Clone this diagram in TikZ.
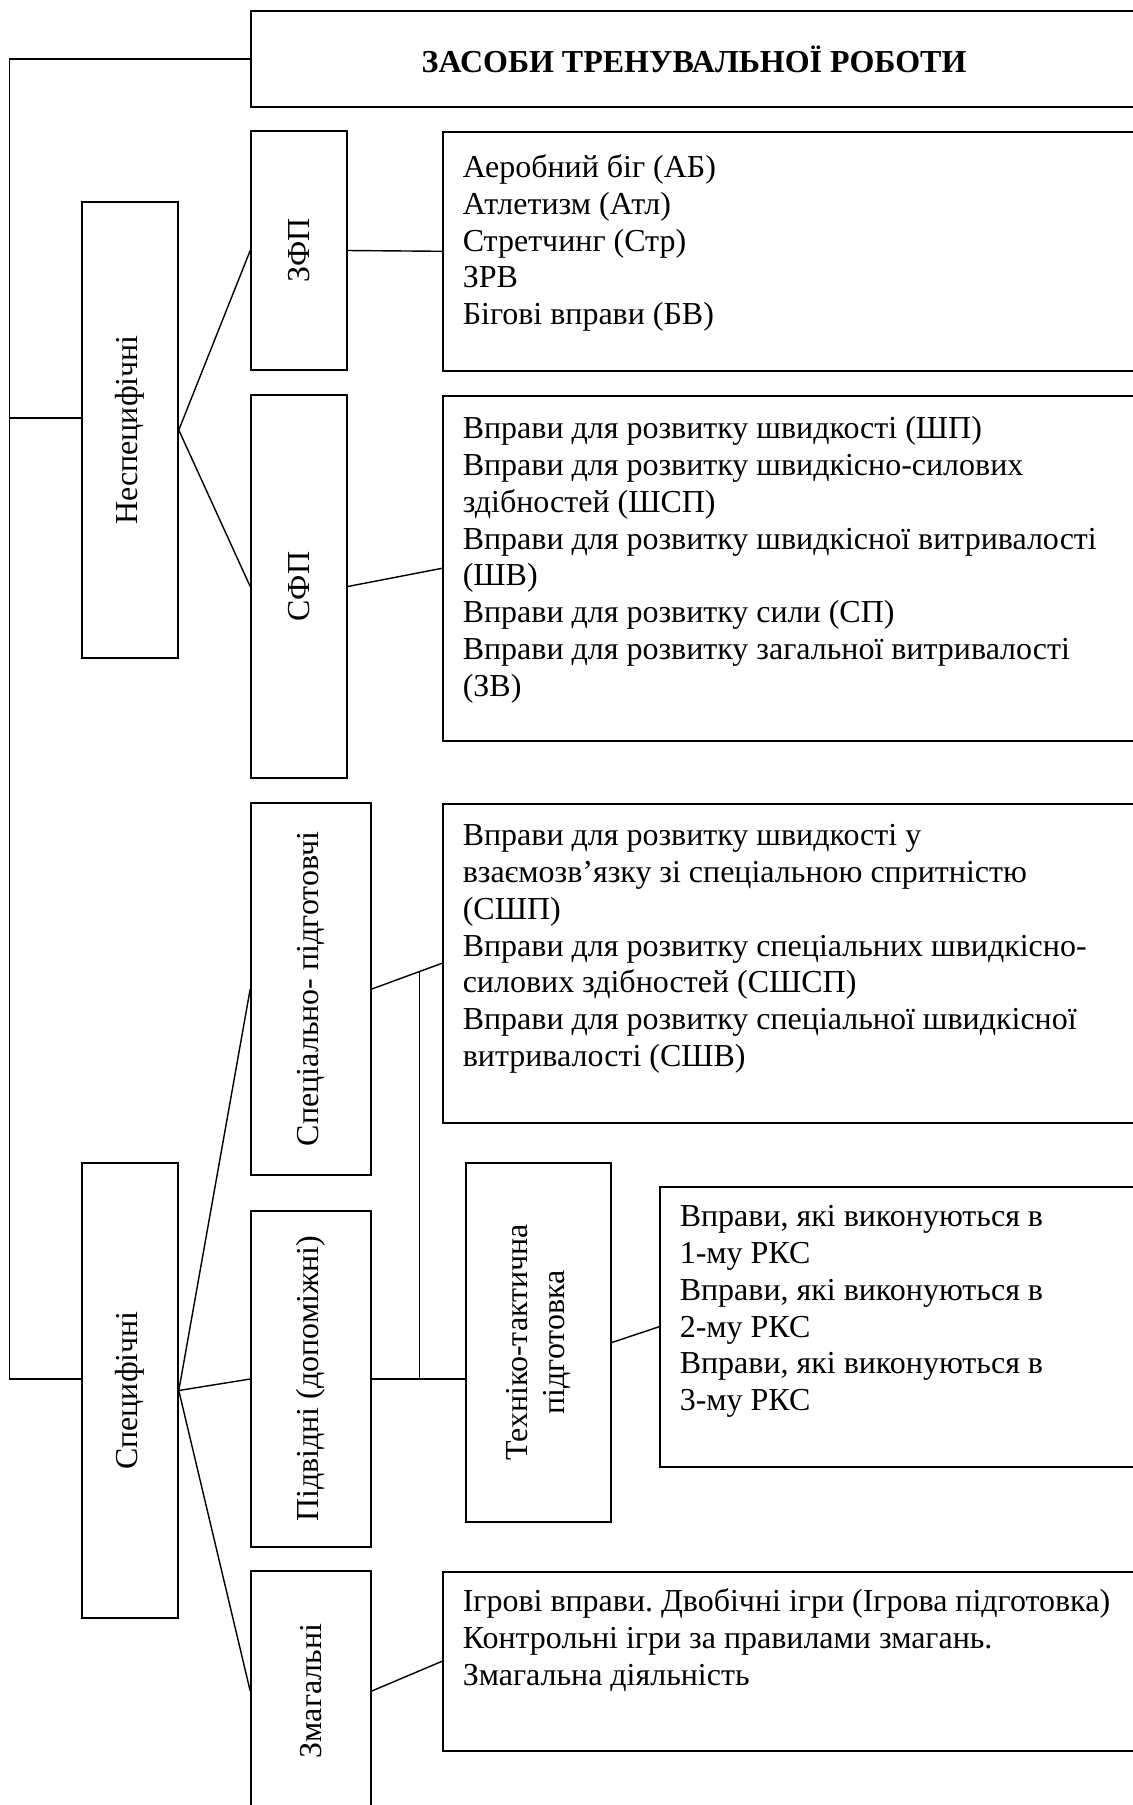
\documentclass[tikz,border=0pt]{standalone}
\usepackage{fontspec}
\setmainfont{Liberation Serif}
\usepackage{tikz}
\usetikzlibrary{calc}
\frenchspacing

\begin{document}
\begin{tikzpicture}[
  font=\fontsize{18.2}{20.9}\selectfont,
  box/.style={draw, line width=0.9pt, inner sep=0pt},
  vbox/.style={box, rotate=90},
  lbox/.style={box, anchor=north west, align=left},
  con/.style={line width=0.8pt}
]
  \useasboundingbox (0,0) rectangle (22.66,-36.1);
  % top
  \node[box, minimum width=17.72cm, minimum height=1.92cm] (title) at (13.88,-1.18) {\bfseries ЗАСОБИ ТРЕНУВАЛЬНОЇ РОБОТИ};
  % groups (rotated: north = left side, south = right side)
  \node[vbox, minimum width=9.12cm, minimum height=1.92cm] (nesp) at (2.6,-8.6) {Неспецифічні};
  \node[vbox, minimum width=9.1cm, minimum height=1.92cm] (spec) at (2.6,-27.81) {Специфічні};
  % second level
  \node[vbox, minimum width=4.78cm, minimum height=1.92cm] (zfp) at (5.98,-5.01) {ЗФП};
  \node[vbox, minimum width=7.66cm, minimum height=1.92cm] (sfp) at (5.98,-11.73) {СФП};
  \node[vbox, minimum width=7.44cm, minimum height=2.4cm] (spp) at (6.22,-19.78) {Спеціально- підготовчі};
  \node[vbox, minimum width=6.72cm, minimum height=2.4cm] (pidv) at (6.22,-27.58) {Підвідні (допоміжні)};
  \node[vbox, minimum width=4.8cm, minimum height=2.4cm] (zmag) at (6.22,-33.82) {Змагальні};
  \node[vbox, minimum width=7.18cm, minimum height=2.9cm, align=center] (ttp) at (10.77,-26.85) {Техніко-тактична\\підготовка};
  % lists
  \node[lbox] (zfpList) at (8.84,-2.62) {\parbox[c][4.78cm][t]{13.9cm}{\vspace{0.46cm}\hspace*{0.4cm}\parbox[t]{13cm}{Аеробний біг (АБ)\\Атлетизм (Атл)\\Стретчинг (Стр)\\ЗРВ\\Бігові вправи (БВ)}}};
  \node[lbox] (sfpList) at (8.84,-7.9) {\parbox[c][6.9cm][t]{13.9cm}{\vspace{0.42cm}\hspace*{0.4cm}\parbox[t]{13cm}{Вправи для розвитку швидкості (ШП)\\Вправи для розвитку швидкісно-силових\\здібностей (ШСП)\\Вправи для розвитку швидкісної витривалості\\(ШВ)\\Вправи для розвитку сили (СП)\\Вправи для розвитку загальної витривалості\\(ЗВ)}}};
  \node[lbox] (sppList) at (8.84,-16.06) {\parbox[c][6.38cm][t]{13.9cm}{\vspace{0.42cm}\hspace*{0.4cm}\parbox[t]{13cm}{Вправи для розвитку швидкості у\\взаємозв’язку зі спеціальною спритністю\\(СШП)\\Вправи для розвитку спеціальних швидкісно-\\силових здібностей (СШСП)\\Вправи для розвитку спеціальної швидкісної\\витривалості (СШВ)}}};
  \node[lbox] (ttpList) at (13.18,-23.72) {\parbox[c][5.6cm][t]{9.56cm}{\vspace{0.38cm}\hspace*{0.4cm}\parbox[t]{9cm}{Вправи, які виконуються в\\1-му РКС\\Вправи, які виконуються в\\2-му РКС\\Вправи, які виконуються в\\3-му РКС}}};
  \node[lbox] (zmagList) at (8.84,-31.42) {\parbox[c][3.58cm][t]{13.9cm}{\vspace{0.34cm}\hspace*{0.4cm}\parbox[t]{13cm}{Ігрові вправи. Двобічні ігри (Ігрова підготовка)\\Контрольні ігри за правилами змагань.\\Змагальна діяльність}}};
  % spine
  \draw[con] (title.west) -| ([xshift=-1.44cm,yshift=0.23cm]spec.north) -- ([yshift=0.23cm]spec.north);
  \draw[con] ([xshift=-1.44cm,yshift=0.24cm]nesp.north) -- ([yshift=0.24cm]nesp.north);
  % fans
  \draw[con] (zfp.north) -- (nesp.south) -- (sfp.north);
  \draw[con] (spp.north) -- (spec.south) -- (zmag.north);
  \draw[con] (spec.south) -- (pidv.north);
  % to lists
  \draw[con] (zfp.south) -- (zfpList.west);
  \draw[con] (sfp.south) -- (sfpList.west);
  \draw[con] (spp.south) -- (sppList.west);
  \draw[con] (ttp.south) -- (ttpList.west);
  \draw[con] (zmag.south) -- (zmagList.west);
  \draw[con] (pidv.south) -- (pidv.south -| ttp.north);
  \coordinate (fork) at ($(spp.south)!0.68!(sppList.west)$);
  \draw[con] (fork) -- (fork |- pidv.south);
\end{tikzpicture}
\end{document}
